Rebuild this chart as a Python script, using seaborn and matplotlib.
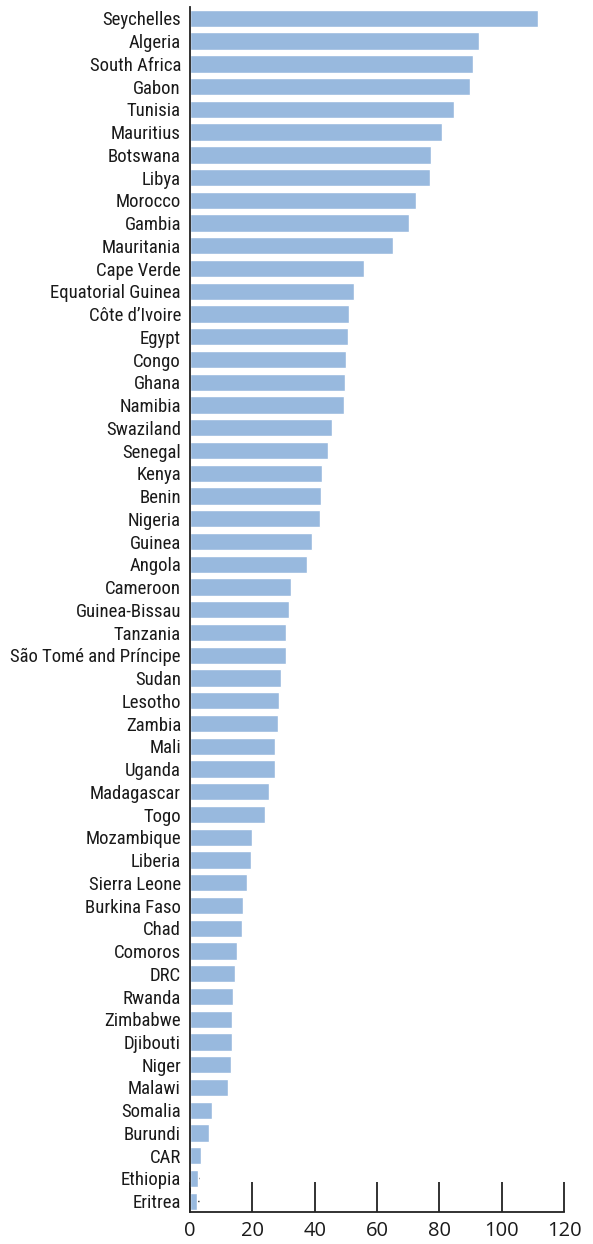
import matplotlib
matplotlib.use("Agg")
import matplotlib.pyplot as plt
from matplotlib import font_manager
import seaborn as sns
import pandas as pd

countries = [
    "Seychelles", "Algeria", "South Africa", "Gabon", "Tunisia", "Mauritius",
    "Botswana", "Libya", "Morocco", "Gambia", "Mauritania", "Cape Verde",
    "Equatorial Guinea", "Côte d’Ivoire", "Egypt", "Congo", "Ghana", "Namibia",
    "Swaziland", "Senegal", "Kenya", "Benin", "Nigeria", "Guinea", "Angola",
    "Cameroon", "Guinea-Bissau", "Tanzania", "São Tomé and Príncipe", "Sudan",
    "Lesotho", "Zambia", "Mali", "Uganda", "Madagascar", "Togo", "Mozambique",
    "Liberia", "Sierra Leone", "Burkina Faso", "Chad", "Comoros", "DRC",
    "Rwanda", "Zimbabwe", "Djibouti", "Niger", "Malawi", "Somalia", "Burundi",
    "CAR", "Ethiopia", "Eritrea",
]
values = [
    111.8, 92.8, 90.9, 89.9, 84.7, 80.9,
    77.4, 77.1, 72.6, 70.3, 65.2, 55.8,
    52.7, 51.1, 50.7, 50.1, 49.8, 49.5,
    45.6, 44.3, 42.4, 42.1, 41.7, 39.2, 37.6,
    32.4, 31.8, 30.8, 30.8, 29.2,
    28.6, 28.3, 27.3, 27.3, 25.4, 24.2, 19.9,
    19.7, 18.3, 17.1, 16.7, 15.2, 14.4,
    13.8, 13.5, 13.5, 13.2, 12.3, 7.2, 6.2,
    3.5, 2.7, 2.3,
]
x_ticks = [0, 20, 40, 60, 80, 100, 120]

df = pd.DataFrame({"country": countries, "value": values})

# find a condensed sans font if one is installed
label_font = None
label_stretch = "normal"
names = {f.name for f in font_manager.fontManager.ttflist}
for cand in ["Liberation Sans Narrow", "DejaVu Sans Condensed", "Roboto Condensed",
             "Open Sans Condensed", "Noto Sans Condensed", "Arial Narrow"]:
    if cand in names:
        label_font = cand
        break
if label_font is None:
    for f in font_manager.fontManager.ttflist:
        if f.stretch in ("condensed", "semi-condensed") and f.name in (
                "DejaVu Sans", "Noto Sans", "Open Sans", "Roboto"):
            label_font = f.name
            label_stretch = f.stretch
            break
if label_font is None:
    label_font = "Roboto"
    label_size = 12.5
else:
    label_size = 13.5

sns.set_theme(style="white")
plt.rcParams["font.family"] = [label_font, "DejaVu Sans"]

fig = plt.figure(figsize=(5.93, 12.44), dpi=100)
ax = fig.add_axes([190 / 593, 1 - 1211.7 / 1244, (564 - 190) / 593, (1211.7 - 7) / 1244])

sns.barplot(data=df, x="value", y="country", orient="h", color="#98b9de",
            saturation=1, width=0.76, ax=ax)

ax.set_axisbelow(True)
ax.set_xlim(0, 120)
ax.set_ylim(len(countries) - 1 + 0.46, -0.5)
ax.set_xticks(x_ticks)
ax.set_xticklabels([str(t) for t in x_ticks], fontsize=14.5, color="#1a1a1a",
                   family=["Open Sans", "DejaVu Sans"])
for lab in ax.get_yticklabels():
    lab.set_fontstretch(label_stretch)
ax.set_xlabel("")
ax.set_ylabel("")

for s in ["top", "right"]:
    ax.spines[s].set_visible(False)
for s in ["left", "bottom"]:
    ax.spines[s].set_color("#222222")
    ax.spines[s].set_linewidth(1.3)

ax.tick_params(axis="x", bottom=True, direction="in", length=21.6, width=1.3,
               color="#222222", pad=7)
ax.tick_params(axis="y", left=True, direction="in", length=6.5, width=1.0,
               color="#222222", pad=6.5, labelsize=label_size, labelcolor="#1a1a1a")

fig.savefig("out.png", dpi=100)
